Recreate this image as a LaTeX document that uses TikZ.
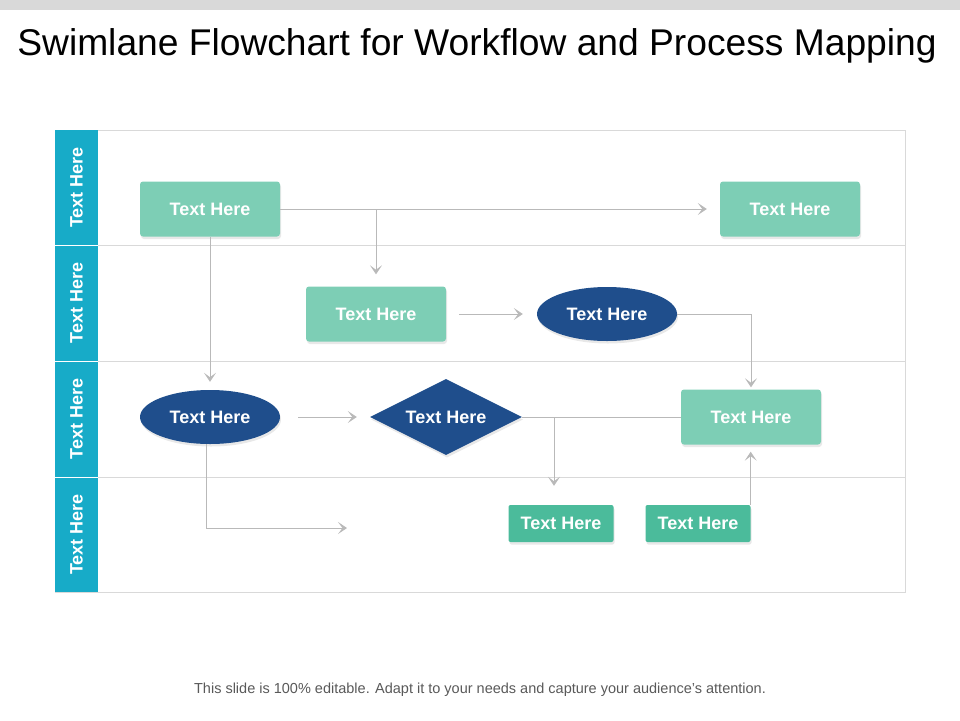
\documentclass[tikz,border=0pt]{standalone}
\usepackage{fontspec}
\setmainfont{Liberation Sans}
\usetikzlibrary{shapes.geometric,arrows.meta,shadows}

\definecolor{laneteal}{RGB}{23,171,200}
\definecolor{boxgreen}{RGB}{125,206,181}
\definecolor{boxdark}{RGB}{75,187,155}
\definecolor{ovalblue}{RGB}{31,78,140}
\definecolor{gridgray}{RGB}{217,217,217}
\definecolor{flowgray}{RGB}{185,185,185}

\begin{document}
\begin{tikzpicture}
  [x=1pt,y=-1pt,
   txt/.style={text=white,font=\bfseries\fontsize{18}{20}\selectfont,inner sep=0pt},
   shade/.style={drop shadow={opacity=0.18,shadow xshift=1pt,shadow yshift=-2.5pt}},
   box/.style={txt,shade,fill=boxgreen,rounded corners=3pt,minimum width=140pt,minimum height=55pt},
   smallbox/.style={txt,shade,fill=boxdark,rounded corners=2pt,minimum width=105pt,minimum height=37pt},
   oval/.style={txt,shade,ellipse,fill=ovalblue,minimum width=140pt,minimum height=54pt},
   decision/.style={txt,shade,diamond,aspect=2,fill=ovalblue,minimum width=152pt,minimum height=76pt},
   lanelabel/.style={txt,rotate=90},
   line/.style={draw=flowgray,line width=0.9pt},
   arr/.style={line,-{Stealth[length=9pt,width=12pt,inset=4.5pt,fill=flowgray]}}]
  \useasboundingbox (0,0) rectangle (960,720);

  % header bar and title
  \fill[gridgray] (0,0) rectangle (960,10);
  \node[anchor=base,font=\fontsize{37.2}{40}\selectfont] (title) at (477,55)
    {Swimlane Flowchart for Workflow and Process Mapping};

  % lanes
  \draw[gridgray,line width=0.8pt] (55,130) rectangle (905,592);
  \foreach \y in {245,361,477}
    \draw[gridgray,line width=0.8pt] (98,\y) -- (905,\y);
  \fill[laneteal] (55,130) rectangle (98,592);
  \foreach \y in {245,361,477}
    \draw[white,line width=1pt] (55,\y) -- (98,\y);
  \node[lanelabel] (l1) at (76.5,187.5) {Text Here};
  \node[lanelabel] (l2) at (76.5,303) {Text Here};
  \node[lanelabel] (l3) at (76.5,419) {Text Here};
  \node[lanelabel] (l4) at (76.5,534.5) {Text Here};

  % flow nodes
  \node[box] (n1) at (210,209) {Text Here};
  \node[box] (n2) at (790,209) {Text Here};
  \node[box] (n3) at (376,314) {Text Here};
  \node[oval] (n4) at (607,314) {Text Here};
  \node[oval] (n5) at (210,417) {Text Here};
  \node[decision] (n6) at (446,417) {Text Here};
  \node[box] (n7) at (751,417) {Text Here};
  \node[smallbox] (n8) at (561,523.5) {Text Here};
  \node[smallbox] (n9) at (698,523.5) {Text Here};
  \coordinate (b1) at (554,417);
  \coordinate (c1) at (347,528);

  % connectors
  \draw[arr,shorten >=13pt] (n1.east) -- (n2.west);
  \draw[arr,shorten >=12pt] (n1.east -| n3.north) -- (n3.north);
  \draw[arr,shorten >=8pt] (n1.south) -- (n5.north);
  \draw[arr,shorten <=13pt,shorten >=14pt] (n3.east) -- (n4.west);
  \draw[arr,shorten >=2pt] (n4.east) -| (n7.north);
  \draw[arr,shorten <=18pt,shorten >=13pt] (n5.east) -- (n6.west);
  \draw[arr] ([xshift=-4pt]n5.south) |- (c1);
  \draw[line] (n6.east) -- (n7.west);
  \draw[arr,shorten >=19pt] (b1) -- (b1 |- n8.north);
  \draw[arr,shorten >=7pt] (n9.north east) -- (n9.north east |- n7.south);

  % footer
  \node[text={rgb,255:red,89;green,89;blue,89},font=\fontsize{14.5}{16}\selectfont] (foot) at (480,690)
    {This slide is 100\% editable. Adapt it to your needs and capture your audience's attention.};
\end{tikzpicture}
\end{document}
